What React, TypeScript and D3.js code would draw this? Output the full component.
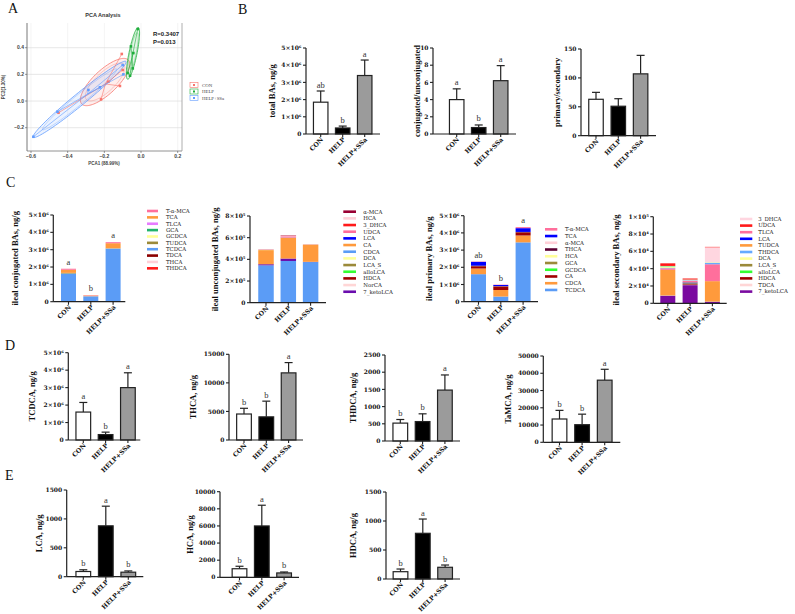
import React from "react";
import * as d3 from "d3";

const SERIF = "'DejaVu Serif', serif";
const TIMES = "'Liberation Serif', 'Times New Roman', serif";
const SANS = "'Liberation Sans', Arial, sans-serif";

// ---------- groups ----------
const groups = ["CON", "HELP", "HELP+SSa"];
const groupFills = ["#ffffff", "#000000", "#9b9b9b"];

// ---------- Panel A: PCA ----------
const pcaGroups = ["CON", "HELP", "HELP+SSa"];
const pcaColors = ["#f8766d", "#1fae3c", "#619cff"];
const pcaX_CON = [-0.105, -0.1, -0.115, -0.218, -0.178, -0.45];
const pcaY_CON = [0.353, 0.233, 0.113, 0.0125, 0.145, -0.088];
const pcaX_HELP = [-0.018, -0.055, -0.042, -0.045, -0.073, -0.06];
const pcaY_HELP = [0.54, 0.41, 0.36, 0.245, 0.21, 0.19];
const pcaX_SSA = [-0.587, -0.456, -0.287, -0.224, -0.096, -0.1];
const pcaY_SSA = [-0.268, -0.08, 0.083, 0.103, 0.2, 0.27];
// ellipse (data space): centre, major half-vector, minor half-vector
const ellCenter = [[-0.196, 0.1425], [-0.044, 0.3575], [-0.335, 0.0125]];
const ellMajor = [[0.127, 0.165], [0.029, 0.194], [0.2527, 0.2838]];
const ellMinor = [[0.045, -0.065], [0.0214, -0.006], [0.0207, -0.0349]];
const pcaXTicks = [-0.6, -0.4, -0.2, 0.0, 0.2];
const pcaYTicks = [-0.2, 0.0, 0.2, 0.4];
const pcaStats = ["R=0.3407", "P=0.013"];

// ---------- Panel B ----------
const totalBAs = [1.85e6, 0.35e6, 3.4e6];
const totalBAsSD = [0.65e6, 0.11e6, 0.9e6];
const totalBAsLetters = ["ab", "b", "a"];
const conjRatio = [4.0, 0.75, 6.2];
const conjRatioSD = [1.25, 0.3, 1.75];
const conjRatioLetters = ["a", "b", "a"];
const primSec = [63, 51, 107];
const primSecSD = [12, 13, 32];

// ---------- Panel C ----------
const conjNames = ["T-α-MCA", "TCA", "TLCA", "GCA", "GCDCA", "TUDCA", "TCDCA", "TDCA", "THCA", "THDCA"];
const conjColors = ["#ff6f9c", "#ff9a3c", "#e77bff", "#21b36b", "#ffff99", "#9b8a3a", "#5b9cf6", "#8b0000", "#ffd0d8", "#ff1a1a"];
const conjValues = [
  [60000, 20000, 60000],
  [180000, 40000, 280000],
  [2000, 800, 1500],
  [3000, 1000, 4000],
  [1500, 500, 1000],
  [29500, 500, 23500],
  [1620000, 310000, 3050000],
  [300, 200, 200],
  [4550, 4050, 11750],
  [530, 575, 1480],
];
const conjOrder = ["TCDCA", "GCDCA", "GCA", "TUDCA", "TDCA", "THCA", "THDCA", "TLCA", "TCA", "T-α-MCA"];
const conjLetters = ["a", "b", "a"];

const unconjNames = ["α-MCA", "HCA", "3_DHCA", "UDCA", "LCA", "CA", "CDCA", "DCA", "LCA_S", "alloLCA", "HDCA", "NorCA", "7_ketoLCA"];
const unconjColors = ["#990033", "#ffd0d8", "#ff1a1a", "#ff6f9c", "#0000ff", "#ff9a3c", "#5b9cf6", "#ffff99", "#9b8a3a", "#33ff33", "#a00000", "#ffd6d6", "#6a0dad"];
const unconjValues = [
  [500, 3000, 400],
  [1000, 6000, 510],
  [500, 1200, 500],
  [3000, 12000, 1000],
  [90, 880, 78],
  [130000, 190000, 158000],
  [345000, 385000, 375000],
  [900, 600, 400],
  [100, 1200, 100],
  [800, 300, 200],
  [126, 788, 202],
  [200, 300, 200],
  [10000, 22000, 2000],
];
const unconjOrder = ["CDCA", "7_ketoLCA", "HDCA", "CA", "DCA", "LCA_S", "alloLCA", "NorCA", "LCA", "UDCA", "HCA", "3_DHCA", "α-MCA"];

const primNames = ["T-α-MCA", "TCA", "α-MCA", "THCA", "HCA", "GCA", "GCDCA", "CA", "CDCA", "TCDCA"];
const primColors = ["#ff6f9c", "#0000ff", "#ffd0d8", "#5c0032", "#ffff99", "#9b8a3a", "#33ff33", "#a00000", "#ff9a3c", "#5b9cf6"];
const primValues = [
  [20000, 20000, 60000],
  [220000, 60000, 220000],
  [500, 3000, 400],
  [30000, 20000, 20000],
  [1000, 6000, 510],
  [3000, 1000, 4000],
  [1500, 500, 1000],
  [130000, 200000, 180000],
  [330000, 380000, 400000],
  [1600000, 300000, 3450000],
];
const primOrder = ["TCDCA", "CDCA", "CA", "GCDCA", "GCA", "HCA", "THCA", "α-MCA", "TCA", "T-α-MCA"];
const primLetters = ["ab", "b", "a"];

const secNames = ["3_DHCA", "UDCA", "TLCA", "LCA", "TUDCA", "THDCA", "DCA", "LCA_S", "alloLCA", "HDCA", "TDCA", "7_ketoLCA"];
const secColors = ["#ffd6e0", "#ff1a1a", "#ff6f9c", "#0000ff", "#ff9a3c", "#66aaff", "#ffff99", "#9b8a3a", "#33ff33", "#a00000", "#ffd6d6", "#7a0aa0"];
const secValues = [
  [500, 300, 17500],
  [3000, 1200, 500],
  [1800, 1500, 19500],
  [90, 880, 81],
  [29500, 500, 23500],
  [530, 575, 1480],
  [900, 300, 400],
  [100, 1200, 100],
  [800, 200, 200],
  [126, 788, 202],
  [300, 200, 200],
  [8500, 21000, 1500],
];
const secOrder = ["7_ketoLCA", "TDCA", "HDCA", "LCA_S", "LCA", "TUDCA", "TLCA", "THDCA", "DCA", "alloLCA", "3_DHCA", "UDCA"];

// ---------- Panel D ----------
const tcdca = [1.6e6, 0.31e6, 3.0e6];
const tcdcaSD = [0.55e6, 0.14e6, 0.85e6];
const tcdcaLetters = ["a", "b", "a"];
const thca = [4550, 4050, 11750];
const thcaSD = [1000, 2750, 1800];
const thcaLetters = ["b", "b", "a"];
const thdca = [520, 565, 1480];
const thdcaSD = [105, 225, 440];
const thdcaLetters = ["b", "b", "a"];
const tamca = [13500, 10200, 36000];
const tamcaSD = [5000, 6100, 6300];
const tamcaLetters = ["b", "b", "a"];

// ---------- Panel E ----------
const lca = [90, 880, 78];
const lcaSD = [30, 340, 22];
const lcaLetters = ["b", "a", "b"];
const hca = [1000, 6000, 510];
const hcaSD = [290, 2420, 110];
const hcaLetters = ["b", "a", "b"];
const hdca = [126, 788, 202];
const hdcaSD = [46, 246, 39];
const hdcaLetters = ["b", "a", "b"];

// ---------- tick sets ----------
const ticks5e6 = [0, 1e6, 2e6, 3e6, 4e6, 5e6];
const ticks10 = [0, 2, 4, 6, 8, 10];
const ticks150 = [0, 50, 100, 150];
const ticks8e5 = [0, 2e5, 4e5, 6e5, 8e5];
const ticks1e5 = [0, 2e4, 4e4, 6e4, 8e4, 1e5];
const ticks15000 = [0, 5000, 10000, 15000];
const ticks2500 = [0, 500, 1000, 1500, 2000, 2500];
const ticks50000 = [0, 10000, 20000, 30000, 40000, 50000];
const ticks1500 = [0, 500, 1000, 1500];
const ticks10000 = [0, 2000, 4000, 6000, 8000, 10000];

type Layout = {
  x0: number; y0: number; yTop: number; first: number; step: number; bw: number; len: number;
  max: number; ticks: number[]; sci?: boolean; tx: number;
};

const supDigits: Record<string, string> = { "0": "⁰", "1": "¹", "2": "²", "3": "³", "4": "⁴", "5": "⁵", "6": "⁶", "7": "⁷", "8": "⁸", "9": "⁹" };
function fmtSci(v: number): string {
  if (v === 0) return "0";
  const e = Math.floor(Math.log10(v) + 1e-9);
  const m = Math.round((v / Math.pow(10, e)) * 10) / 10;
  return `${m}×10${String(e).split("").map((c) => supDigits[c]).join("")}`;
}

function Axes({ L, title }: { L: Layout; title: string }) {
  const y = d3.scaleLinear().domain([0, L.max]).range([L.y0, L.yTop]);
  const x = d3.scalePoint<string>().domain(groups).range([L.x0 + L.first, L.x0 + L.first + 2 * L.step]);
  return (
    <g>
      <line x1={L.x0} x2={L.x0} y1={L.yTop} y2={L.y0} stroke="#222" strokeWidth={1.2} />
      <line x1={L.x0} x2={L.x0 + L.len} y1={L.y0} y2={L.y0} stroke="#222" strokeWidth={1.2} />
      {L.ticks.map((t) => (
        <g key={t}>
          <line x1={L.x0 - 3} x2={L.x0} y1={y(t)} y2={y(t)} stroke="#222" strokeWidth={1.1} />
          <text x={L.x0 - 4.5} y={y(t)} dy="0.35em" textAnchor="end" fontFamily={SERIF} fontWeight="bold" fontSize={6} fill="#111">
            {L.sci ? fmtSci(t) : String(t)}
          </text>
        </g>
      ))}
      {groups.map((g) => (
        <g key={g}>
          <line x1={x(g)} x2={x(g)} y1={L.y0} y2={L.y0 + 3} stroke="#222" strokeWidth={1.1} />
          <text transform={`translate(${x(g)! + 3},${L.y0 + 6}) rotate(-45)`} textAnchor="end" fontFamily={SERIF} fontWeight="bold" fontSize={6.3} fill="#111">
            {g}
          </text>
        </g>
      ))}
      <text transform={`translate(${L.tx},${(L.y0 + L.yTop) / 2}) rotate(-90)`} textAnchor="middle" dy="0.35em" fontFamily={TIMES} fontWeight="bold" fontSize={8.5} fill="#111">
        {title}
      </text>
    </g>
  );
}

function BarChart({ L, values, sd, letters, title }: { L: Layout; values: number[]; sd: number[]; letters?: string[]; title: string }) {
  const y = d3.scaleLinear().domain([0, L.max]).range([L.y0, L.yTop]);
  const x = d3.scalePoint<string>().domain(groups).range([L.x0 + L.first, L.x0 + L.first + 2 * L.step]);
  return (
    <g>
      {groups.map((g, i) => {
        const cx = x(g)!;
        const top = y(values[i]);
        const et = y(values[i] + sd[i]);
        return (
          <g key={g}>
            <line x1={cx} x2={cx} y1={top} y2={et} stroke="#222" strokeWidth={1.2} />
            <line x1={cx - 4} x2={cx + 4} y1={et} y2={et} stroke="#222" strokeWidth={1.2} />
            <rect x={cx - L.bw / 2} y={top} width={L.bw} height={L.y0 - top} fill={groupFills[i]} stroke="#222" strokeWidth={1.2} />
            {letters && (
              <text x={cx} y={et - 3.5} textAnchor="middle" fontFamily={TIMES} fontSize={8.5} fill="#333">
                {letters[i]}
              </text>
            )}
          </g>
        );
      })}
      <Axes L={L} title={title} />
    </g>
  );
}

function StackChart({
  L, names, colors, values, order, letters, title, lx, ly, lstep, lw, ltx,
}: {
  L: Layout; names: string[]; colors: string[]; values: number[][]; order: string[]; letters?: string[]; title: string;
  lx: number; ly: number; lstep: number; lw: number; ltx: number;
}) {
  const y = d3.scaleLinear().domain([0, L.max]).range([L.y0, L.yTop]);
  const x = d3.scalePoint<string>().domain(groups).range([L.x0 + L.first, L.x0 + L.first + 2 * L.step]);
  const rows = groups.map((g, gi) => {
    const r: Record<string, any> = { group: g };
    names.forEach((n, ni) => (r[n] = values[ni][gi]));
    return r;
  });
  const series = d3.stack<Record<string, any>>().keys(order)(rows);
  const totals = groups.map((_, gi) => d3.sum(values, (v) => v[gi]));
  return (
    <g>
      {series.map((s) => (
        <g key={s.key} fill={colors[names.indexOf(s.key)]}>
          {s.map((d, gi) => (
            <rect key={gi} x={x(groups[gi])! - L.bw / 2} y={y(d[1])} width={L.bw} height={Math.max(0, y(d[0]) - y(d[1]))} />
          ))}
        </g>
      ))}
      {letters &&
        groups.map((g, gi) => (
          <text key={g} x={x(g)} y={y(totals[gi]) - 4} textAnchor="middle" fontFamily={TIMES} fontSize={8.5} fill="#333">
            {letters[gi]}
          </text>
        ))}
      <Axes L={L} title={title} />
      {names.map((n, i) => (
        <g key={n}>
          <rect x={lx} y={ly + i * lstep - 1.3} width={lw} height={2.6} fill={colors[i]} />
          <text x={lx + ltx} y={ly + i * lstep} dy="0.35em" fontFamily={SERIF} fontSize={5.4} fill="#222">
            {n}
          </text>
        </g>
      ))}
    </g>
  );
}

function PCA() {
  const x = d3.scaleLinear().domain([-0.6, 0.2]).range([31, 177.7]);
  const y = d3.scaleLinear().domain([-0.2, 0.4]).range([127.7, 47.7]);
  const left = 27, right = 182, top = 23, bottom = 151;
  const xs = [pcaX_CON, pcaX_HELP, pcaX_SSA];
  const ys = [pcaY_CON, pcaY_HELP, pcaY_SSA];
  const ellipse = (k: number, s: number) => {
    const pts: [number, number][] = d3.range(0, 101).map((i) => {
      const t = (i / 100) * 2 * Math.PI;
      const c = ellCenter[k], a = ellMajor[k], b = ellMinor[k];
      return [x(c[0] + s * (a[0] * Math.cos(t) + b[0] * Math.sin(t))), y(c[1] + s * (a[1] * Math.cos(t) + b[1] * Math.sin(t)))];
    });
    return d3.line()(pts) + "Z";
  };
  return (
    <g>
      <text x={103} y={17} textAnchor="middle" fontFamily={SANS} fontWeight="bold" fontSize={5.5} fill="#333">PCA Analysis</text>
      <rect x={left} y={top} width={right - left} height={bottom - top} fill="#fff" />
      {pcaXTicks.map((t) => <line key={"gx" + t} x1={x(t)} x2={x(t)} y1={top} y2={bottom} stroke="#ececec" strokeWidth={0.6} />)}
      {pcaYTicks.map((t) => <line key={"gy" + t} x1={left} x2={right} y1={y(t)} y2={y(t)} stroke="#dcdcdc" strokeWidth={0.7} />)}
      <line x1={left} x2={left} y1={top} y2={bottom} stroke="#555" strokeWidth={0.8} />
      <line x1={left} x2={right} y1={bottom} y2={bottom} stroke="#777" strokeWidth={0.8} />
      <line x1={right} x2={right} y1={top} y2={bottom} stroke="#999" strokeWidth={0.8} />
      {pcaXTicks.map((t) => (
        <g key={"tx" + t}>
          <line x1={x(t)} x2={x(t)} y1={bottom} y2={bottom + 2} stroke="#555" strokeWidth={0.6} />
          <text x={x(t)} y={bottom + 6.5} textAnchor="middle" fontFamily={SANS} fontWeight="bold" fontSize={5} fill="#444">{d3.format(".1f")(t)}</text>
        </g>
      ))}
      {pcaYTicks.map((t) => (
        <g key={"ty" + t}>
          <line x1={left - 2} x2={left} y1={y(t)} y2={y(t)} stroke="#555" strokeWidth={0.6} />
          <text x={left - 3} y={y(t)} dy="0.35em" textAnchor="end" fontFamily={SANS} fontWeight="bold" fontSize={5} fill="#444">{d3.format(".1f")(t)}</text>
        </g>
      ))}
      <text x={104} y={165} textAnchor="middle" fontFamily={SANS} fontWeight="bold" fontSize={4.5} fill="#444">PCA1 (88.99%)</text>
      <text transform={`translate(5,87) rotate(-90)`} textAnchor="middle" fontFamily={SANS} fontWeight="bold" fontSize={4.5} fill="#444">PC2(1.30%)</text>
      {pcaGroups.map((g, k) => (
        <g key={"e" + g}>
          <path d={ellipse(k, 1)} fill={pcaColors[k]} fillOpacity={0.12} stroke={pcaColors[k]} strokeWidth={0.8} />
          <path d={ellipse(k, 0.8)} fill="none" stroke={pcaColors[k]} strokeWidth={0.5} strokeOpacity={0.7} />
        </g>
      ))}
      {pcaGroups.map((g, k) => {
        const cx = d3.mean(xs[k])!, cy = d3.mean(ys[k])!;
        return (
          <g key={"p" + g}>
            {xs[k].map((v, i) => (
              <line key={i} x1={x(cx)} y1={y(cy)} x2={x(v)} y2={y(ys[k][i])} stroke={pcaColors[k]} strokeWidth={0.6} />
            ))}
            {xs[k].map((v, i) => (
              <rect key={"r" + i} x={x(v) - 1.3} y={y(ys[k][i]) - 1.3} width={2.6} height={2.6} fill={pcaColors[k]} />
            ))}
          </g>
        );
      })}
      {pcaStats.map((s, i) => (
        <text key={s} x={153} y={36 + i * 8} fontFamily={SANS} fontWeight="bold" fontSize={6} fill="#222">{s}</text>
      ))}
      {pcaGroups.map((g, k) => (
        <g key={"l" + g}>
          <rect x={190} y={82.5 + k * 6.5} width={8} height={5} fill="#fff" stroke={pcaColors[k]} strokeWidth={0.6} />
          <rect x={193} y={84} width={2} height={2} transform={`translate(0,${k * 6.5})`} fill={pcaColors[k]} />
          <text x={202} y={85 + k * 6.5} dy="0.35em" fontFamily={TIMES} fontSize={4.8} fill="#444">{g}</text>
        </g>
      ))}
    </g>
  );
}

const panelLabel = (t: string, x: number, y: number) => (
  <text key={t} x={x} y={y} fontFamily={TIMES} fontSize={14} fill="#111">{t}</text>
);

export default function App() {
  return (
    <svg width={795} height={614} viewBox="0 0 795 614" style={{ position: "absolute", left: 0, top: 0, background: "#fff" }}>
      <rect width={795} height={614} fill="#fff" />
      {panelLabel("A", 8, 13)}
      {panelLabel("B", 238, 14)}
      {panelLabel("C", 6, 187)}
      {panelLabel("D", 5, 350)}
      {panelLabel("E", 5, 480)}
      <PCA />

      <BarChart L={{ x0: 306, y0: 134, yTop: 48, first: 14.7, step: 22, bw: 14.5, len: 74, max: 5e6, ticks: ticks5e6, sci: true, tx: 272 }}
        values={totalBAs} sd={totalBAsSD} letters={totalBAsLetters} title="total BAs, ng/g" />
      <BarChart L={{ x0: 433, y0: 134, yTop: 48, first: 23.7, step: 22, bw: 14.5, len: 83, max: 10, ticks: ticks10, tx: 417 }}
        values={conjRatio} sd={conjRatioSD} letters={conjRatioLetters} title="conjugated/unconjugated" />
      <BarChart L={{ x0: 581, y0: 135.7, yTop: 49, first: 15, step: 22.3, bw: 14.5, len: 75, max: 150, ticks: ticks150, tx: 557 }}
        values={primSec} sd={primSecSD} title="primary/secondary" />

      <StackChart L={{ x0: 53.3, y0: 301.7, yTop: 215, first: 15.2, step: 22.3, bw: 15, len: 72, max: 5e6, ticks: ticks5e6, sci: true, tx: 15 }}
        names={conjNames} colors={conjColors} values={conjValues} order={conjOrder} letters={conjLetters}
        title="ileal conjugated BAs, ng/g" lx={147} ly={211} lstep={6.37} lw={11} ltx={19} />
      <StackChart L={{ x0: 250, y0: 302.7, yTop: 216, first: 16, step: 22.3, bw: 15.5, len: 76, max: 8e5, ticks: ticks8e5, sci: true, tx: 215 }}
        names={unconjNames} colors={unconjColors} values={unconjValues} order={unconjOrder}
        title="ileal unconjugated BAs, ng/g" lx={343.3} ly={211.7} lstep={6.67} lw={12.7} ltx={20} />
      <StackChart L={{ x0: 464, y0: 301.7, yTop: 215.7, first: 14.5, step: 22.3, bw: 15, len: 74, max: 5e6, ticks: ticks5e6, sci: true, tx: 429.3 }}
        names={primNames} colors={primColors} values={primValues} order={primOrder} letters={primLetters}
        title="ileal primary BAs, ng/g" lx={545} ly={229.3} lstep={6.74} lw={12.3} ltx={20} />
      <StackChart L={{ x0: 653.3, y0: 303.3, yTop: 216.7, first: 14.5, step: 22.3, bw: 15, len: 73.4, max: 1e5, ticks: ticks1e5, sci: true, tx: 615.7 }}
        names={secNames} colors={secColors} values={secValues} order={secOrder}
        title="ileal secondary BAs, ng/g" lx={740} ly={219} lstep={6.6} lw={12.3} ltx={18.3} />

      <BarChart L={{ x0: 68.3, y0: 440, yTop: 352.7, first: 15, step: 22.3, bw: 14.7, len: 72, max: 5e6, ticks: ticks5e6, sci: true, tx: 31.7 }}
        values={tcdca} sd={tcdcaSD} letters={tcdcaLetters} title="TCDCA, ng/g" />
      <BarChart L={{ x0: 229, y0: 440, yTop: 354.3, first: 15, step: 22.3, bw: 14.7, len: 74, max: 15000, ticks: ticks15000, tx: 193 }}
        values={thca} sd={thcaSD} letters={thcaLetters} title="THCA, ng/g" />
      <BarChart L={{ x0: 385, y0: 441, yTop: 355, first: 15.3, step: 22.3, bw: 14.7, len: 75, max: 2500, ticks: ticks2500, tx: 352.7 }}
        values={thdca} sd={thdcaSD} letters={thdcaLetters} title="THDCA, ng/g" />
      <BarChart L={{ x0: 543.3, y0: 442.3, yTop: 356, first: 16.2, step: 22.6, bw: 14.7, len: 77, max: 50000, ticks: ticks50000, tx: 508.3 }}
        values={tamca} sd={tamcaSD} letters={tamcaLetters} title="TaMCA, ng/g" />

      <BarChart L={{ x0: 66.7, y0: 576.7, yTop: 490, first: 16.6, step: 22.5, bw: 14.7, len: 76.6, max: 1500, ticks: ticks1500, tx: 39.3 }}
        values={lca} sd={lcaSD} letters={lcaLetters} title="LCA, ng/g" />
      <BarChart L={{ x0: 220, y0: 577.3, yTop: 491.7, first: 19.5, step: 22.3, bw: 14.7, len: 79, max: 10000, ticks: ticks10000, tx: 190 }}
        values={hca} sd={hcaSD} letters={hcaLetters} title="HCA, ng/g" />
      <BarChart L={{ x0: 386, y0: 579, yTop: 492, first: 14.5, step: 22.3, bw: 14.7, len: 74, max: 1500, ticks: ticks1500, tx: 352.7 }}
        values={hdca} sd={hdcaSD} letters={hdcaLetters} title="HDCA, ng/g" />
    </svg>
  );
}
